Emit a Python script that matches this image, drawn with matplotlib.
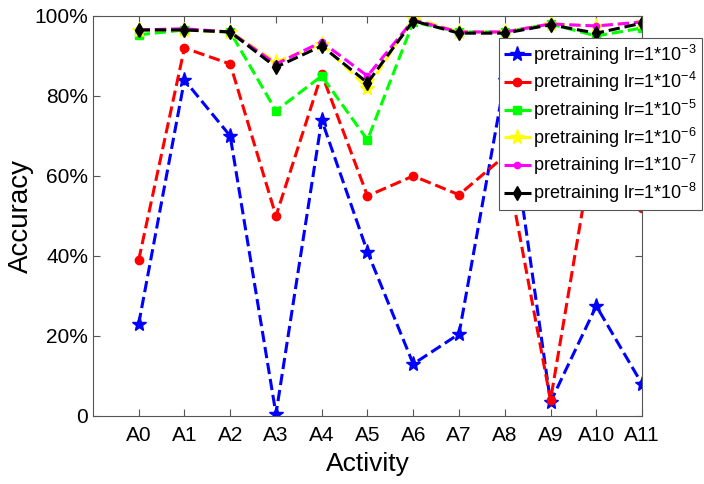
import numpy as np
import matplotlib.pyplot as plt

plt.rcParams['font.family'] = ['Liberation Sans', 'DejaVu Sans']
plt.rcParams['mathtext.default'] = 'regular'

activities = ['A0', 'A1', 'A2', 'A3', 'A4', 'A5', 'A6', 'A7', 'A8', 'A9', 'A10', 'A11']

acc_1e3 = [23, 84, 70, 0.5, 74, 41, 13, 20.5, 84, 3.5, 27.5, 8]
acc_1e4 = [39, 92, 88, 50, 85.5, 55, 60, 55.3, 65, 4, 72, 52]
acc_1e5 = [95.3, 96.5, 96, 76.3, 85, 69, 98.5, 96, 96, 98, 95, 97]
acc_1e6 = [96.5, 96.5, 96, 88.5, 93, 82, 99.5, 96, 96, 98, 97.5, 98.5]
acc_1e7 = [96.5, 96.8, 96, 88, 93.5, 85, 99, 96, 96, 98, 97.5, 98.5]
acc_1e8 = [96.5, 96.5, 96, 87.2, 92.5, 83.3, 98.8, 95.7, 95.7, 97.8, 95.7, 98.2]

x = np.arange(len(activities))

fig = plt.figure(figsize=(7.04, 4.84), dpi=100)
ax = fig.add_axes([0.132, 0.1405, 0.78, 0.8265])

ax.plot(x, acc_1e3, '--', color='blue', marker='*', markersize=11, lw=2.2, label='pretraining lr=1*10$^{-3}$')
ax.plot(x, acc_1e4, '--', color='red', marker='o', markersize=6, lw=2.2, label='pretraining lr=1*10$^{-4}$')
ax.plot(x, acc_1e5, '--', color='#00ff00', marker='s', markersize=6, lw=2.2, label='pretraining lr=1*10$^{-5}$')
ax.plot(x, acc_1e6, '--', color='yellow', marker='*', markersize=11, lw=2.2, label='pretraining lr=1*10$^{-6}$')
ax.plot(x, acc_1e7, '--', color='magenta', marker='.', markersize=9, lw=2.2, label='pretraining lr=1*10$^{-7}$')
ax.plot(x, acc_1e8, '--', color='black', marker='d', markersize=7, lw=2.2, label='pretraining lr=1*10$^{-8}$')

ax.set_xlim(-1, 11)
ax.set_ylim(0, 100)
ax.set_xticks(x)
ax.set_xticklabels(activities)
ax.set_yticks([0, 20, 40, 60, 80, 100])
ax.set_yticklabels(['0', '20%', '40%', '60%', '80%', '100%'])
ax.tick_params(direction='in', length=5, labelsize=15, top=True, right=True,
               color='#555555', width=0.8)
ax.tick_params(axis='x', pad=7)
for s in ax.spines.values():
    s.set_color('#555555')
    s.set_linewidth(0.8)

ax.set_xlabel('Activity', fontsize=19, labelpad=5)
ax.set_ylabel('Accuracy', fontsize=20)
ax.yaxis.set_label_coords(-0.107, 0.5)

leg = ax.legend(loc='upper left', bbox_to_anchor=(499 / 704, 1 - 38 / 484),
                bbox_transform=fig.transFigure, fontsize=13, fancybox=False,
                framealpha=1, edgecolor='#555555', handlelength=1.5,
                handletextpad=0.15, borderpad=0.25, labelspacing=0.2, borderaxespad=0)
leg.get_frame().set_linewidth(0.8)

fig.savefig('out.png', dpi=100)
